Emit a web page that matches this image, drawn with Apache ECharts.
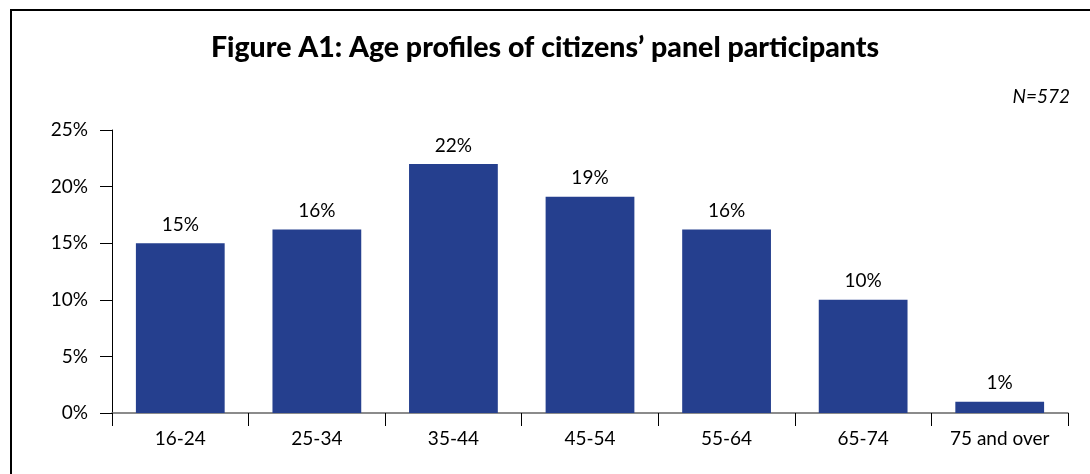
<!DOCTYPE html>
<html><head><meta charset="utf-8">
<script src="https://cdn.jsdelivr.net/npm/echarts@6/dist/echarts.min.js"></script>
<style>html,body{margin:0;padding:0;background:#fff}#c{width:1090px;height:474px}</style>
</head><body><div id="c"></div>
<script>
const categories = ['16-24','25-34','35-44','45-54','55-64','65-74','75 and over'];
const values = [15, 16.2, 22, 19.1, 16.2, 10, 1];
const yTicks = [0, 5, 10, 15, 20, 25];
const titleText = 'Figure A1: Age profiles of citizens\u2019 panel participants';
const noteText = 'N=572';

const chart = echarts.init(document.getElementById('c'), null, {renderer:'canvas'});
const font = 'Lato, "DejaVu Sans", sans-serif';
chart.setOption({
  animation:false,
  backgroundColor:'#fff',
  title:{text:titleText, left:'center', top:28, textStyle:{fontFamily:font, fontWeight:900, fontSize:28.5, color:'#000'}},
  graphic:[
    {type:'polyline', shape:{points:[[11,480],[11,10],[1100,10]]}, style:{stroke:'#000', lineWidth:2, fill:null}},
    {type:'text', right:20, top:87, style:{text:noteText, fontFamily:font, fontStyle:'italic', fontSize:19, fill:'#000'}}
  ],
  grid:{left:112, right:22, top:130, bottom:61, containLabel:false},
  xAxis:{type:'category', data:categories,
    axisLine:{lineStyle:{color:'#666', width:1.5}},
    axisTick:{show:true, length:13, lineStyle:{color:'#000'}},
    axisLabel:{fontFamily:font, fontSize:19, color:'#000', margin:16}},
  yAxis:{type:'value', min:0, max:25, interval:5,
    axisLine:{show:true, lineStyle:{color:'#000'}},
    axisTick:{show:true, length:12, lineStyle:{color:'#000'}},
    splitLine:{show:false},
    axisLabel:{fontFamily:font, fontSize:19, color:'#000', margin:24, formatter:v=>yTicks.includes(v)?v+'%':''}},
  series:[{type:'bar', data:values, barWidth:'65%', itemStyle:{color:'#253F8E'},
    label:{show:true, position:'top', distance:9, fontFamily:font, fontSize:19, color:'#000', formatter:p=>Math.round(p.value)+'%'}}]
});
</script></body></html>
